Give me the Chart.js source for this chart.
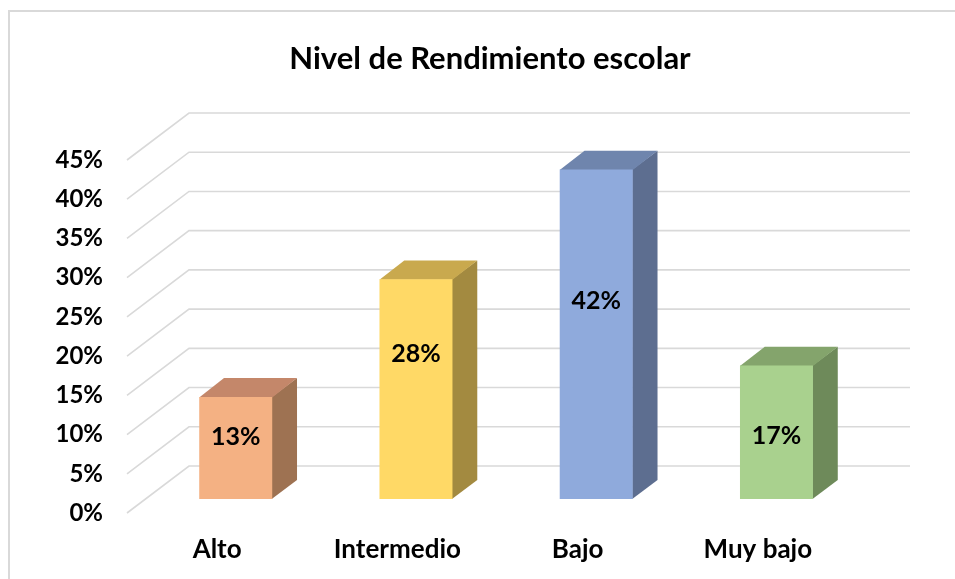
<!DOCTYPE html>
<html>
<head>
<meta charset="utf-8">
<script src="https://cdn.jsdelivr.net/npm/chart.js@4.4.0/dist/chart.umd.min.js"></script>
<style>
  html, body { margin: 0; padding: 0; background: #fff; }
  #wrap { width: 955px; height: 579px; position: relative; }
</style>
</head>
<body>
<div id="wrap"><canvas id="chart"></canvas></div>
<script>
// data
const categories = ["Alto", "Intermedio", "Bajo", "Muy bajo"];
const percentages = [13, 28, 42, 17];
const yMax = 45;
const yStep = 5;
const chartTitle = "Nivel de Rendimiento escolar";

// styles
const frontColors = ["#F4B183", "#FFD966", "#8FAADC", "#A9D18E"];
const topColors = ["#C4876A", "#C9A94E", "#6F85AD", "#84A46C"];
const sideColors = ["#9E7252", "#A38A40", "#5D6E90", "#6E8A5A"];
const labelLift = [0.61, 0.66, 0.6, 0.47];
const FONT = "Lato, 'Open Sans', sans-serif";

// fake 3d: back wall offset and bar depth inside the floor
const depth = { dx: 62, dy: -47, front: 0.3, back: 0.7 };

const fake3d = {
  id: "fake3d",
  beforeDraw(chart) {
    const ctx = chart.ctx;
    const ca = chart.chartArea;
    const ys = chart.scales.y;

    // outer border (right and bottom are cut off in the reference)
    ctx.save();
    ctx.strokeStyle = "#d9d9d9";
    ctx.lineWidth = 2;
    ctx.beginPath();
    ctx.moveTo(9, chart.height + 5);
    ctx.lineTo(9, 11);
    ctx.lineTo(chart.width + 5, 11);
    ctx.stroke();

    // gridlines: side wall diagonal + back wall horizontal
    ctx.strokeStyle = "#d9d9d9";
    ctx.lineWidth = 1.6;
    ctx.beginPath();
    ys.ticks.forEach((t) => {
      const y = ys.getPixelForValue(t.value);
      ctx.moveTo(ca.left, y);
      ctx.lineTo(ca.left + depth.dx, y + depth.dy);
      ctx.lineTo(ca.right + depth.dx, y + depth.dy);
    });
    ctx.stroke();

    // title
    ctx.fillStyle = "#000";
    ctx.font = "bold 31px " + FONT;
    ctx.textAlign = "center";
    ctx.textBaseline = "alphabetic";
    ctx.fillText(chartTitle, 490, 69);
    ctx.restore();
  },
  beforeDatasetsDraw(chart) {
    const ctx = chart.ctx;
    const bx = depth.dx * (depth.back - depth.front);
    const by = depth.dy * (depth.back - depth.front);
    ctx.save();
    ctx.translate(depth.dx * depth.front, depth.dy * depth.front);
    chart.getDatasetMeta(0).data.forEach((bar, i) => {
      const l = bar.x - bar.width / 2;
      const r = bar.x + bar.width / 2;
      const t = bar.y;
      const b = bar.base;
      ctx.fillStyle = sideColors[i];
      ctx.beginPath();
      ctx.moveTo(r - 0.5, t);
      ctx.lineTo(r + bx, t + by);
      ctx.lineTo(r + bx, b + by);
      ctx.lineTo(r - 0.5, b);
      ctx.closePath();
      ctx.fill();
      ctx.fillStyle = topColors[i];
      ctx.beginPath();
      ctx.moveTo(l, t + 0.5);
      ctx.lineTo(l + bx, t + by);
      ctx.lineTo(r + bx, t + by);
      ctx.lineTo(r, t + 0.5);
      ctx.closePath();
      ctx.fill();
    });
  },
  afterDatasetsDraw(chart) {
    const ctx = chart.ctx;
    ctx.fillStyle = "#000";
    ctx.font = "bold 25px " + FONT;
    ctx.textAlign = "center";
    ctx.textBaseline = "middle";
    chart.getDatasetMeta(0).data.forEach((bar, i) => {
      const y = bar.base - labelLift[i] * (bar.base - bar.y);
      ctx.fillText(percentages[i] + "%", bar.x, y);
    });
    ctx.restore();
  }
};

new Chart(document.getElementById("chart"), {
  type: "bar",
  data: {
    labels: categories,
    datasets: [{
      data: percentages,
      backgroundColor: frontColors,
      borderWidth: 0,
      categoryPercentage: 1,
      barPercentage: 0.405
    }]
  },
  options: {
    responsive: true,
    maintainAspectRatio: false,
    animation: false,
    layout: { padding: { top: 160, left: 0, right: 107, bottom: 0 } },
    plugins: {
      legend: { display: false },
      title: { display: false },
      tooltip: { enabled: false }
    },
    scales: {
      x: {
        grid: { display: false, drawTicks: false },
        border: { display: false },
        ticks: { color: "#000", padding: 21, font: { family: FONT, size: 26, weight: "bold" } },
        afterFit: (s) => { s.height = 66; }
      },
      y: {
        min: 0,
        max: yMax,
        grid: { display: false, drawTicks: false },
        border: { display: false },
        ticks: {
          stepSize: yStep,
          color: "#000",
          padding: 24,
          font: { family: FONT, size: 24, weight: "bold" },
          callback: (v) => v + "%"
        },
        afterFit: (s) => { s.width = 127; }
      }
    }
  },
  plugins: [fake3d]
});
</script>
</body>
</html>
